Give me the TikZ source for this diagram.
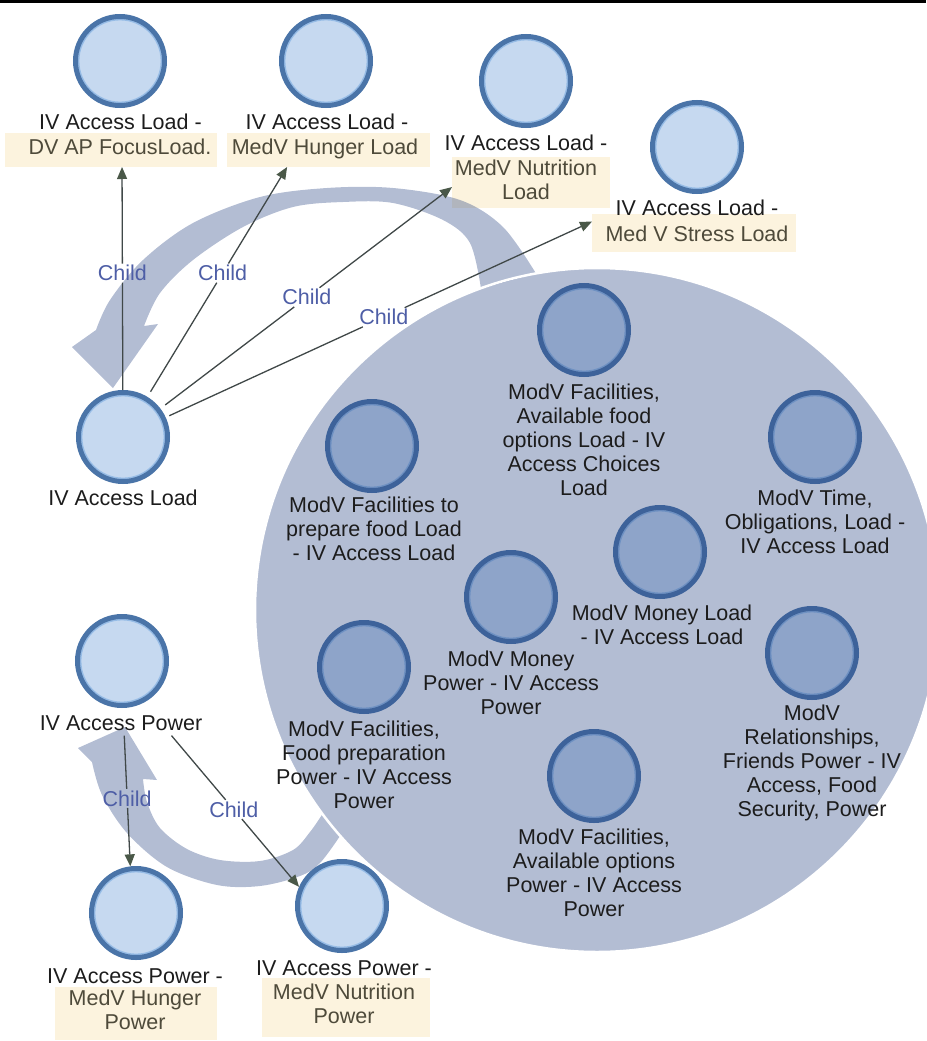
\documentclass[tikz,border=0pt]{standalone}
\usepackage{fontspec}
\setmainfont{Liberation Sans}
\usetikzlibrary{arrows.meta,calc}

\definecolor{nodefill}{RGB}{198,217,240}
\definecolor{nodeedge}{RGB}{74,116,168}
\definecolor{nodering}{RGB}{150,188,230}
\definecolor{hilite}{RGB}{252,243,222}
\definecolor{hitext}{RGB}{78,74,58}
\definecolor{titletext}{RGB}{28,28,28}
\definecolor{childtext}{RGB}{78,94,166}
\definecolor{edgeline}{RGB}{64,72,72}
\definecolor{edgehead}{RGB}{74,88,72}
\definecolor{shade}{RGB}{38,66,129}

\newcommand\lblfont{\fontsize{21.5pt}{24pt}\selectfont}

\tikzset{
  vnode/.style={circle, minimum size=89pt, inner sep=0pt, line width=5pt,
    draw=nodeedge, fill=nodefill,
    path picture={\draw[nodering, line width=1.4pt]
      (path picture bounding box.center) circle[radius=41.3pt];}},
  hibox/.style={rectangle, fill=hilite, inner sep=0pt, outer sep=0pt},
  lbl/.style={inner sep=0pt, align=center, anchor=north, yshift=8pt,
    font=\lblfont, text=titletext,
    execute at begin node={\rule{0pt}{16pt}}},
  hilbl/.style={lbl, text=hitext},
  childlbl/.style={inner sep=1.5pt, font=\lblfont, text=childtext},
  childline/.style={draw=edgeline, line width=1.3pt},
  childarrow/.style={childline,
    -{Triangle[length=12pt,width=10pt,color=edgehead]}},
  shadefill/.style={fill=shade, fill opacity=0.35},
}

\begin{document}
\begin{tikzpicture}[x=1pt,y=-1pt]
\useasboundingbox (0,0) rectangle (926,1041);
\fill[black] (0,0) rectangle (926,3.5);

% vertex circles
\node[vnode] (dvap)    at (120,61)  {};
\node[vnode] (hunger)  at (326,61)  {};
\node[vnode] (nutr)    at (526,81)  {};
\node[vnode] (stress)  at (697,147) {};
\node[vnode] (ivload)  at (123,437) {};
\node[vnode] (ivpow)   at (122,661) {};
\node[vnode] (phunger) at (136,913) {};
\node[vnode] (pnutr)   at (342,906) {};
\node[vnode] (m1) at (584,330) {};
\node[vnode] (m2) at (372,446) {};
\node[vnode] (m3) at (815,437) {};
\node[vnode] (m4) at (660,552) {};
\node[vnode] (m5) at (511,597) {};
\node[vnode] (m6) at (364,667) {};
\node[vnode] (m7) at (812,653) {};
\node[vnode] (m8) at (594,776) {};

% highlighted label backgrounds
\node[hibox, minimum width=212pt, minimum height=34pt] (hb1) at (111,150)    {};
\node[hibox, minimum width=203pt, minimum height=34pt] (hb2) at (328.5,150)  {};
\node[hibox, minimum width=158pt, minimum height=51pt] (hb3) at (531,182.5)  {};
\node[hibox, minimum width=204pt, minimum height=38pt] (hb4) at (694,233)    {};
\node[hibox, minimum width=162pt, minimum height=53pt] (hb7) at (136,1013.5) {};
\node[hibox, minimum width=168pt, minimum height=59pt] (hb8) at (346,1007.5) {};

% translucent curved arrows and group disc
\fill[shadefill]
  plot[smooth,tension=0.55] coordinates {(536,273.5) (503,227) (460,200) (393,188)
    (327,188) (260,197) (193,223) (143,260) (110,300) (96,330)}
  -- (72,347) -- (113,388) -- (158,324) -- (144,326)
  -- plot[smooth,tension=0.55] coordinates {(144,326) (160,293) (193,260) (243,227)
    (293,207) (343,202) (393,203) (443,220) (470,243) (481,288.5)}
  -- cycle;
\fill[shadefill]
  plot[smooth,tension=0.55] coordinates {(340,836) (320,863) (300,876) (260,886)
    (217,885) (167,867) (127,833) (102,795) (92,762)}
  -- (78,748) -- (125,727) -- (157,780) -- (143,779)
  -- plot[smooth,tension=0.55] coordinates {(143,779) (147,802) (160,828) (187,849)
    (220,860) (260,861) (293,850) (310,832) (322.5,814)}
  -- cycle;
\draw[shadefill, draw=white, line width=2.5pt] (597,610) circle[radius=342pt];

% labels of the outer vertices
\node[lbl]   (t1) at (120.5,121) {IV Access Load -};
\node[hilbl] (h1) at (120,146)   {DV AP FocusLoad.};
\node[lbl]   (t2) at (327,121)   {IV Access Load -};
\node[hilbl] (h2) at (325,146)   {MedV Hunger Load};
\node[lbl]   (t3) at (526,142)   {IV Access Load -};
\node[hilbl] (h3) at (526,168)   {MedV Nutrition\\Load};
\node[lbl]   (t4) at (697,207)   {IV Access Load -};
\node[hilbl] (h4) at (697,233)   {Med V Stress Load};
\node[lbl]   (t5) at (123,497)   {IV Access Load};
\node[lbl]   (t6) at (121,722)   {IV Access Power};
\node[lbl]   (t7) at (135,975)   {IV Access Power -};
\node[hilbl] (h7) at (135,998)   {MedV Hunger\\Power};
\node[lbl]   (t8) at (344,967)   {IV Access Power -};
\node[hilbl] (h8) at (344,992)   {MedV Nutrition\\Power};

% labels inside the group
\node[lbl] (l1) at (584,392) {ModV Facilities,\\Available food\\options Load - IV\\Access Choices\\Load};
\node[lbl] (l2) at (374,505) {ModV Facilities to\\prepare food Load\\- IV Access Load};
\node[lbl] (l3) at (815,498) {ModV Time,\\Obligations, Load -\\IV Access Load};
\node[lbl] (l4) at (662,613) {ModV Money Load\\- IV Access Load};
\node[lbl] (l5) at (511,659) {ModV Money\\Power - IV Access\\Power};
\node[lbl] (l6) at (364,729) {ModV Facilities,\\Food preparation\\Power - IV Access\\Power};
\node[lbl] (l7) at (812,713) {ModV\\Relationships,\\Friends Power - IV\\Access, Food\\Security, Power};
\node[lbl] (l8) at (594,837) {ModV Facilities,\\Available options\\Power - IV Access\\Power};

% arrow end points on the targets
\coordinate (tip1) at ($(hb1.south west)!0.552!(hb1.south east)$);
\coordinate (tip2) at ($(hb2.south west)!0.296!(hb2.south east)$);
\coordinate (tip3) at ($(hb3.north west)!0.59!(hb3.south west)$);
\coordinate (tip4) at ($(hb4.north west)!0.2!(hb4.south west)$);
\coordinate (src5) at ($(t6.south west)!0.52!(t6.south east)+(0,5)$);
\coordinate (src6) at ($(t6.south west)!0.81!(t6.south east)+(0,5)$);
\coordinate (tip5) at (phunger.97);
\coordinate (tip6) at (pnutr.156);

% "Child" labels on the connectors
\path (ivload.center) -- (tip1) node[childlbl, pos=0.607] (ch1) {Child};
\path (ivload.center) -- (tip2) node[childlbl, pos=0.607] (ch2) {Child};
\path (ivload.center) -- (tip3) node[childlbl, pos=0.559] (ch3) {Child};
\path (ivload.center) -- (tip4) node[childlbl, pos=0.556] (ch4) {Child};
\path (src5) -- (tip5) node[childlbl, pos=0.48]  (ch5) {Child};
\path (src6) -- (tip6) node[childlbl, pos=0.488] (ch6) {Child};

% connectors
\draw[childline] (ivload) -- (ch1);
\draw[childarrow] (ch1) -- (tip1);
\draw[childline, shorten <=6pt] (ivload) -- (ch2);
\draw[childarrow] (ch2) -- (tip2);
\draw[childline, shorten <=6pt] (ivload) -- (ch3);
\draw[childarrow] (ch3) -- (tip3);
\draw[childline, shorten <=4pt] (ivload) -- (ch4);
\draw[childarrow] (ch4) -- (tip4);
\draw[childline] (src5) -- (ch5);
\draw[childarrow] (ch5) -- (tip5);
\draw[childline] (src6) -- (ch6);
\draw[childarrow] (ch6) -- (tip6);
\end{tikzpicture}
\end{document}
